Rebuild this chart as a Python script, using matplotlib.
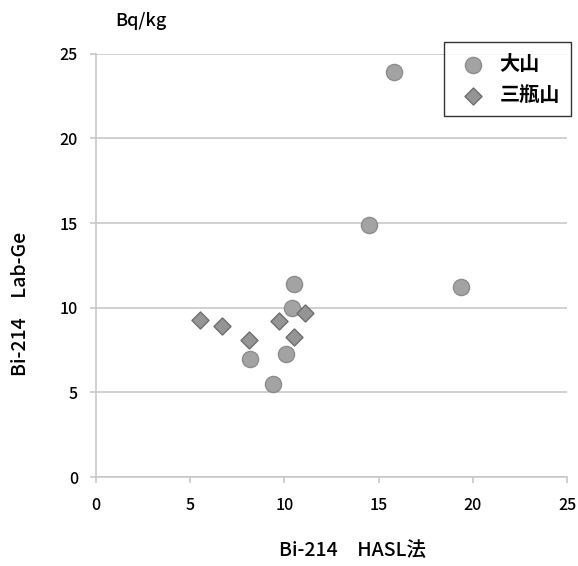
import matplotlib
matplotlib.use("Agg")
import matplotlib.pyplot as plt

plt.rcParams['font.family'] = ['Noto Sans CJK JP', 'DejaVu Sans']

# 大山
daisen_x = [15.8, 14.5, 19.4, 10.5, 10.4, 8.2, 10.1, 9.4]
daisen_y = [23.9, 14.9, 11.2, 11.4, 10.0, 7.0, 7.3, 5.5]
# 三瓶山
sanbe_x = [5.5, 6.7, 8.1, 9.7, 11.1, 10.5]
sanbe_y = [9.3, 8.9, 8.1, 9.2, 9.7, 8.3]

ticks = [0, 5, 10, 15, 20, 25]

fig = plt.figure(figsize=(5.78, 5.66), dpi=100)
ax = fig.add_axes([0.166, 0.157, 0.815, 0.748])

ax.scatter(daisen_x, daisen_y, s=135, marker='o', color='#a3a3a3',
           edgecolor='#8c8c8c', linewidth=1.0, label='大山', zorder=3)
ax.scatter(sanbe_x, sanbe_y, s=75, marker='D', color='#959595',
           edgecolor='#6e6e6e', linewidth=1.0, label='三瓶山', zorder=3)

ax.set_xlim(0, 25)
ax.set_ylim(0, 25)
ax.set_xticks(ticks)
ax.set_yticks(ticks)
ax.yaxis.grid(True, color='#c8c8c8', linewidth=1.2)
ax.set_axisbelow(True)
for s in ['top', 'right']:
    ax.spines[s].set_visible(False)
for s in ['left', 'bottom']:
    ax.spines[s].set_color('#c8c8c8')
    ax.spines[s].set_linewidth(1.2)
ax.tick_params(axis='both', colors='#c8c8c8', labelcolor='black',
               labelsize=11.5, length=4, width=1.2)
ax.tick_params(axis='x', pad=10)
ax.tick_params(axis='y', pad=9)
for lab in ax.get_xticklabels() + ax.get_yticklabels():
    lab.set_fontweight('medium')

ax.set_xlabel('Bi-214　HASL法', fontsize=14, fontweight='medium')
ax.xaxis.set_label_coords(0.544, -0.15)
ax.set_ylabel('Bi-214　Lab-Ge', fontsize=14, fontweight='medium')
ax.yaxis.set_label_coords(-0.14, 0.41)
fig.text(0.243, 0.963, 'Bq/kg', fontsize=13, fontweight='medium',
         ha='center', va='center')

leg = ax.legend(loc='upper right', bbox_to_anchor=(1.008, 1.028), frameon=True,
                fancybox=False, edgecolor='black', fontsize=14.5,
                handlelength=1.8, handletextpad=0.4, borderpad=0.55,
                labelspacing=0.5, borderaxespad=0)
for t in leg.get_texts():
    t.set_fontweight('bold')
leg.get_frame().set_linewidth(1.0)

fig.savefig('out.png', dpi=100)
